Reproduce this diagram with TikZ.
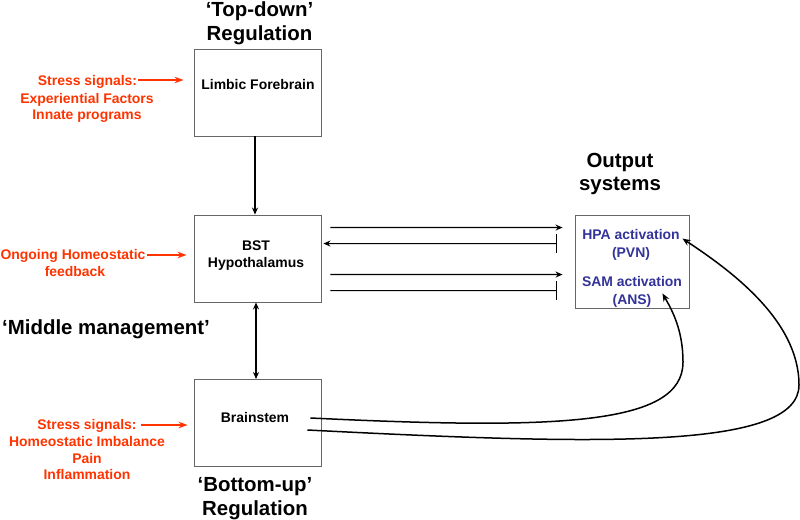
\documentclass[tikz,border=0pt]{standalone}
\usepackage{fontspec}
\setmainfont{Liberation Sans}
\usetikzlibrary{arrows.meta,calc}
\definecolor{sred}{HTML}{FF3300}
\definecolor{navy}{HTML}{333399}
\definecolor{boxgray}{HTML}{666666}
\begin{document}
\begin{tikzpicture}[x=1bp,y=-1bp,
  box/.style={draw=boxgray,line width=0.9bp,minimum width=127bp,minimum height=87bp,inner sep=0pt},
  title/.style={font=\fontsize{20.5}{24}\selectfont\bfseries,align=center,inner sep=0pt},
  lbl/.style={font=\fontsize{14}{17}\selectfont\bfseries,align=center,inner sep=0pt},
  redlbl/.style={lbl,text=sred},
  outlbl/.style={font=\fontsize{14}{18}\selectfont\bfseries,align=center,inner sep=0pt,text=navy},
  arr/.style={line width=1.3bp,-{Stealth[length=7bp,width=6bp]}},
  darr/.style={line width=1.2bp,{Stealth[length=7bp,width=6bp]}-{Stealth[length=7bp,width=6bp]}},
  redarr/.style={draw=sred,line width=1.3bp,-{Stealth[length=9bp,width=6.5bp]}},
  barfb/.style={line width=1bp,{Bar[width=19bp,line width=1bp]}-{Stealth[length=7bp,width=6bp]}},
  barend/.style={line width=1bp,-{Bar[width=19bp,line width=1bp]}},
  carr/.style={line width=1.5bp,-{Stealth[length=8bp,width=6.5bp]}}
]
\useasboundingbox (0,0) rectangle (800,520);

% boxes
\node[box] (lf) at (257.5,92.5) {};
\node[box] (bst) at (257.5,258.5) {};
\node[box] (bs) at (257.5,423) {};
\node[box,minimum width=114bp,minimum height=93bp] (out) at (632,261.5) {};

% box texts
\node[lbl] (lft) at (258,85) {Limbic Forebrain};
\node[lbl] (bstt) at (256,256) {BST\\Hypothalamus};
\node[lbl] (bst2) at (255,418) {Brainstem};
\node[outlbl] (hpa) at (631,245) {HPA activation\\(PVN)};
\node[outlbl] (sam) at (632,291.5) {SAM activation\\(ANS)};

% titles
\node[title] (ttop) at (259.5,23) {‘Top-down’\\Regulation};
\node[title] (tout) at (620,174) {Output\\systems};
\node[title,anchor=west] (tmid) at (2,329) {‘Middle management’};
\node[title] (tbot) at (255,498.5) {‘Bottom-up’\\Regulation};

% red inputs
\node[redlbl] (ss1) at (87.5,82.4) {Stress signals:};
\node[redlbl] (ss1b) at (87,107.9) {Experiential Factors\\Innate programs};
\node[redlbl] (og) at (73,256.4) {Ongoing Homeostatic};
\node[redlbl] (ogb) at (75,272) {feedback};
\node[redlbl] (ss2) at (87,426.4) {Stress signals:};
\node[redlbl,font=\fontsize{14}{16.5}\selectfont\bfseries] (ss2b) at (87,458.4) {Homeostatic Imbalance\\Pain\\Inflammation};

\draw[redarr] ($(ss1.east)+(1,-2.4)$) -- ($(lf.west)+(-10,-12.5)$);
\draw[redarr] ($(og.east)+(1,-1.4)$) -- ($(bst.west)+(-7,-3.5)$);
\draw[redarr] ($(ss2.east)+(4,-1.4)$) -- ($(bs.west)+(-6,2)$);

% vertical connectors
\draw[arr] ([xshift=-2.5bp]lf.south) -- ([xshift=-2.5bp]bst.north);
\draw[darr] ([xshift=-1.5bp]bst.south) -- ([xshift=-1.5bp]bs.north);

% BST <-> output
\draw[arr] ($(bst.north east)+(9,13)$) -- ($(out.north west)+(-12,13)$);
\draw[barfb] ($(out.north west)+(-18,29)$) -- ($(bst.north east)+(2,29)$);
\draw[arr] ($(bst.north east)+(9,60)$) -- ($(out.north west)+(-12,60)$);
\draw[barend] ($(bst.north east)+(9,76)$) -- ($(out.north west)+(-18,76)$);

% brainstem -> output curves
\draw[carr] ($(bs.east)+(-11,-5)$) .. controls (560,430) and (683,425) .. (683,362)
  .. controls (683,330) and (672,310) .. ($(out.south east)+(-27,-15)$);
\draw[carr] ($(bs.east)+(-14,7)$) .. controls (600,445) and (799,450) .. (799,385)
  .. controls (799,320) and (730,270) .. ($(out.north east)+(-7,24)$);
\end{tikzpicture}
\end{document}
